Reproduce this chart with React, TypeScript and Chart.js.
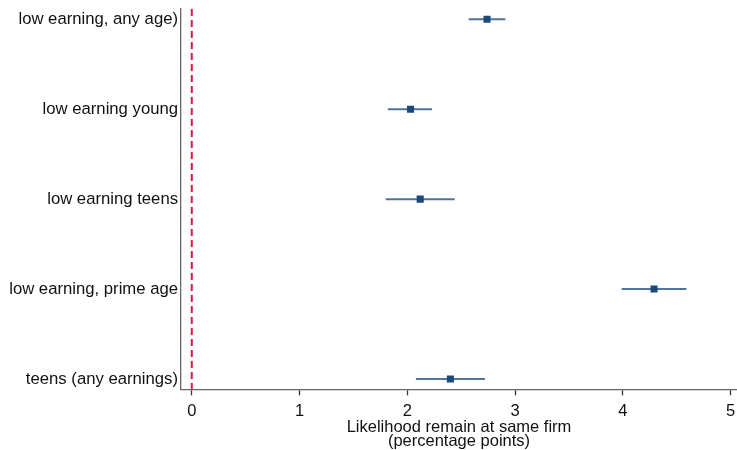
import { useEffect, useRef } from "react";
import { Chart, registerables } from "chart.js";

Chart.register(...registerables);

// Groups, top to bottom
const categories = [
  "low earning, any age)",
  "low earning young",
  "low earning teens",
  "low earning, prime age",
  "teens (any earnings)",
];

// Point estimates and confidence interval bounds (percentage points)
const estimates = [2.74, 2.03, 2.12, 4.29, 2.4];
const lowerBounds = [2.57, 1.82, 1.8, 3.99, 2.08];
const upperBounds = [2.91, 2.23, 2.44, 4.59, 2.72];

const xTicks = [0, 1, 2, 3, 4, 5];
const xTitle = ["Likelihood remain at same firm", "(percentage points)"];
const referenceValue = 0;

const FONT = "'Liberation Sans', Arial, Helvetica, sans-serif";
const MARKER = "#1c4a78";
const CI_LINE = "#4f7499";
const REF_LINE = "#dc1844";
const AXIS = "#666666";

const Y_MIN = -0.115;
const Y_MAX = 4.115;

export default function App() {
  const canvasRef = useRef<HTMLCanvasElement | null>(null);

  useEffect(() => {
    const canvas = canvasRef.current;
    if (!canvas) return;

    const ciDatasets = categories.map((name, i) => ({
      type: "line" as const,
      label: name + " CI",
      data: [
        { x: lowerBounds[i], y: i },
        { x: upperBounds[i], y: i },
      ],
      showLine: true,
      borderColor: CI_LINE,
      borderWidth: 2,
      pointRadius: 0,
      fill: false,
    }));

    const chart = new Chart(canvas, {
      type: "scatter",
      data: {
        datasets: [
          {
            label: "estimate",
            data: estimates.map((v, i) => ({ x: v, y: i })),
            pointStyle: "rect",
            pointRadius: 5,
            pointHoverRadius: 5,
            backgroundColor: MARKER,
            borderColor: MARKER,
            borderWidth: 0,
            showLine: false,
          },
          ...ciDatasets,
          {
            type: "line" as const,
            label: "zero",
            data: [
              { x: referenceValue, y: Y_MIN },
              { x: referenceValue, y: Y_MAX },
            ],
            showLine: true,
            borderColor: REF_LINE,
            borderWidth: 2,
            borderDash: [7, 4],
            pointRadius: 0,
            fill: false,
          },
        ],
      },
      options: {
        animation: false,
        responsive: false,
        maintainAspectRatio: false,
        events: [],
        layout: {
          autoPadding: false,
          padding: { top: 9, left: 0, right: 0, bottom: 0 },
        },
        plugins: {
          legend: { display: false },
          tooltip: { enabled: false },
        },
        scales: {
          x: {
            type: "linear",
            min: -0.1,
            max: 5.06,
            afterBuildTicks: (s: any) => {
              s.ticks = xTicks.map((v) => ({ value: v }));
            },
            afterFit: (s: any) => {
              s.height = 60.7;
              s.paddingLeft = 0;
              s.paddingRight = 0;
            },
            grid: {
              display: true,
              drawOnChartArea: false,
              drawTicks: true,
              tickLength: 6,
              tickColor: "#333333",
              tickWidth: 1.3,
            },
            border: { display: true, color: AXIS, width: 1.3 },
            ticks: {
              color: "#111111",
              padding: 6,
              font: { family: FONT, size: 16.5 },
              callback: (v: any) => String(v),
            },
            title: {
              display: true,
              text: xTitle,
              color: "#111111",
              font: { family: FONT, size: 16.5, lineHeight: "14px" },
              padding: { top: 0, bottom: 1.5 },
            },
          },
          y: {
            type: "linear",
            reverse: true,
            min: Y_MIN,
            max: Y_MAX,
            afterBuildTicks: (s: any) => {
              s.ticks = categories.map((_, i) => ({ value: i }));
            },
            afterFit: (s: any) => {
              s.width = 181;
              s.paddingTop = 0;
              s.paddingBottom = 0;
            },
            grid: { display: false, drawTicks: false },
            border: { display: true, color: AXIS, width: 1.3 },
            ticks: {
              color: "#111111",
              padding: 3,
              font: { family: FONT, size: 16.7 },
              callback: (v: any) => categories[Math.round(Number(v))] ?? "",
            },
          },
        },
      },
    } as any);

    return () => chart.destroy();
  }, []);

  return (
    <div
      style={{
        position: "fixed",
        left: 0,
        top: 0,
        width: 737,
        height: 450,
        background: "#ffffff",
      }}
    >
      <canvas
        ref={canvasRef}
        width={737}
        height={450}
        style={{ width: 737, height: 450, display: "block" }}
      />
    </div>
  );
}
